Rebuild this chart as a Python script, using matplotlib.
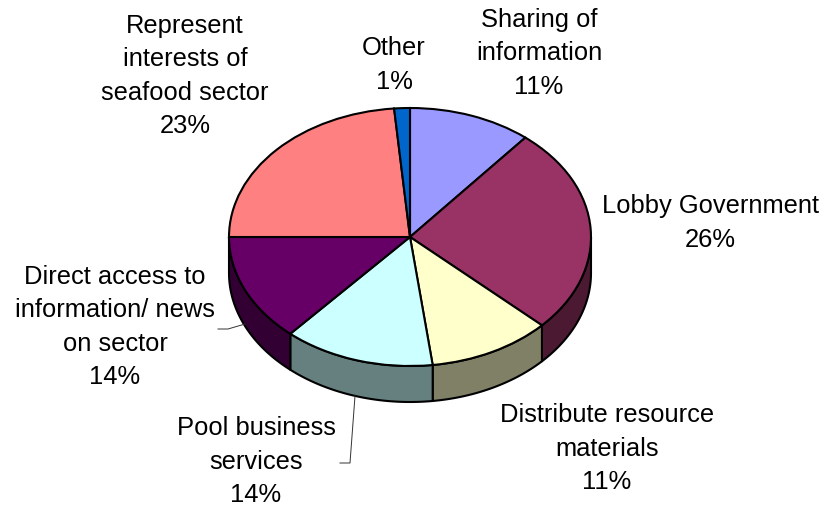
import numpy as np
import matplotlib
matplotlib.use('Agg')
import matplotlib.pyplot as plt

plt.rcParams['font.family'] = ['Liberation Sans', 'DejaVu Sans']

# shares as drawn, the printed labels are rounded
shares = [11, 26, 11, 13.5, 13.5, 23.6, 1.4]
labels = ['Sharing of\ninformation\n11%', 'Lobby Government\n26%',
          'Distribute resource\nmaterials\n11%',
          'Pool business\nservices\n14%',
          'Direct access to\ninformation/ news\non sector\n14%',
          'Represent\ninterests of\nseafood sector\n23%', 'Other\n1%']
colors = ['#9999FF', '#993366', '#FFFFCC', '#CCFFFF', '#660066', '#FF8080', '#0066CC']
side_colors = ['#4C4C80', '#4C1933', '#808066', '#668080', '#330033', '#804040', '#003366']

label_pos = [(539, 53), (710, 223), (607, 449), (256, 462), (115, 327), (185, 76), (394, 65)]

W, H = 824, 510
CX, CY, RX, RY, DEPTH = 410, 238, 181, 129, 36


def px_x(x):
    return (x - CX) / RX


def px_y(y):
    return (CY - y) / RY


def draw_walls(ax, fracs):
    edges = np.concatenate([[0], np.cumsum(fracs)]) / np.sum(fracs) * 360
    drop = DEPTH / RY
    for i in range(len(fracs)):
        # only the front half of the rim shows
        a0 = max(edges[i], 90)
        a1 = min(edges[i + 1], 270)
        if a1 <= a0:
            continue
        t = np.radians(np.linspace(a0, a1, 60))
        x = np.sin(t)
        y = np.cos(t)
        ax.fill(np.r_[x, x[::-1]], np.r_[y, y[::-1] - drop], facecolor=side_colors[i],
                edgecolor='black', linewidth=1.5, joinstyle='round', zorder=1)


fig = plt.figure(figsize=(W / 100, H / 100), dpi=100)
ax = fig.add_axes([0, 0, 1, 1])

draw_walls(ax, shares)
ax.pie(shares, colors=colors, startangle=90, counterclock=False,
       wedgeprops={'edgecolor': 'black', 'linewidth': 1.5, 'zorder': 2})

ax.set_aspect('auto')
ax.set_xlim(px_x(0), px_x(W))
ax.set_ylim(px_y(H), px_y(0))
ax.axis('off')

for text, (x, y) in zip(labels, label_pos):
    ax.text(px_x(x), px_y(y), text, ha='center', va='center', fontsize=18.4,
            linespacing=1.5, color='black', zorder=3)

# leader lines
ax.plot([px_x(218), px_x(228), px_x(245)], [px_y(330), px_y(330), px_y(325)],
        color='#333333', lw=0.7, zorder=3)
ax.plot([px_x(340), px_x(350), px_x(355)], [px_y(464), px_y(464), px_y(397)],
        color='#333333', lw=0.7, zorder=3)

fig.savefig('out.png', dpi=100)
